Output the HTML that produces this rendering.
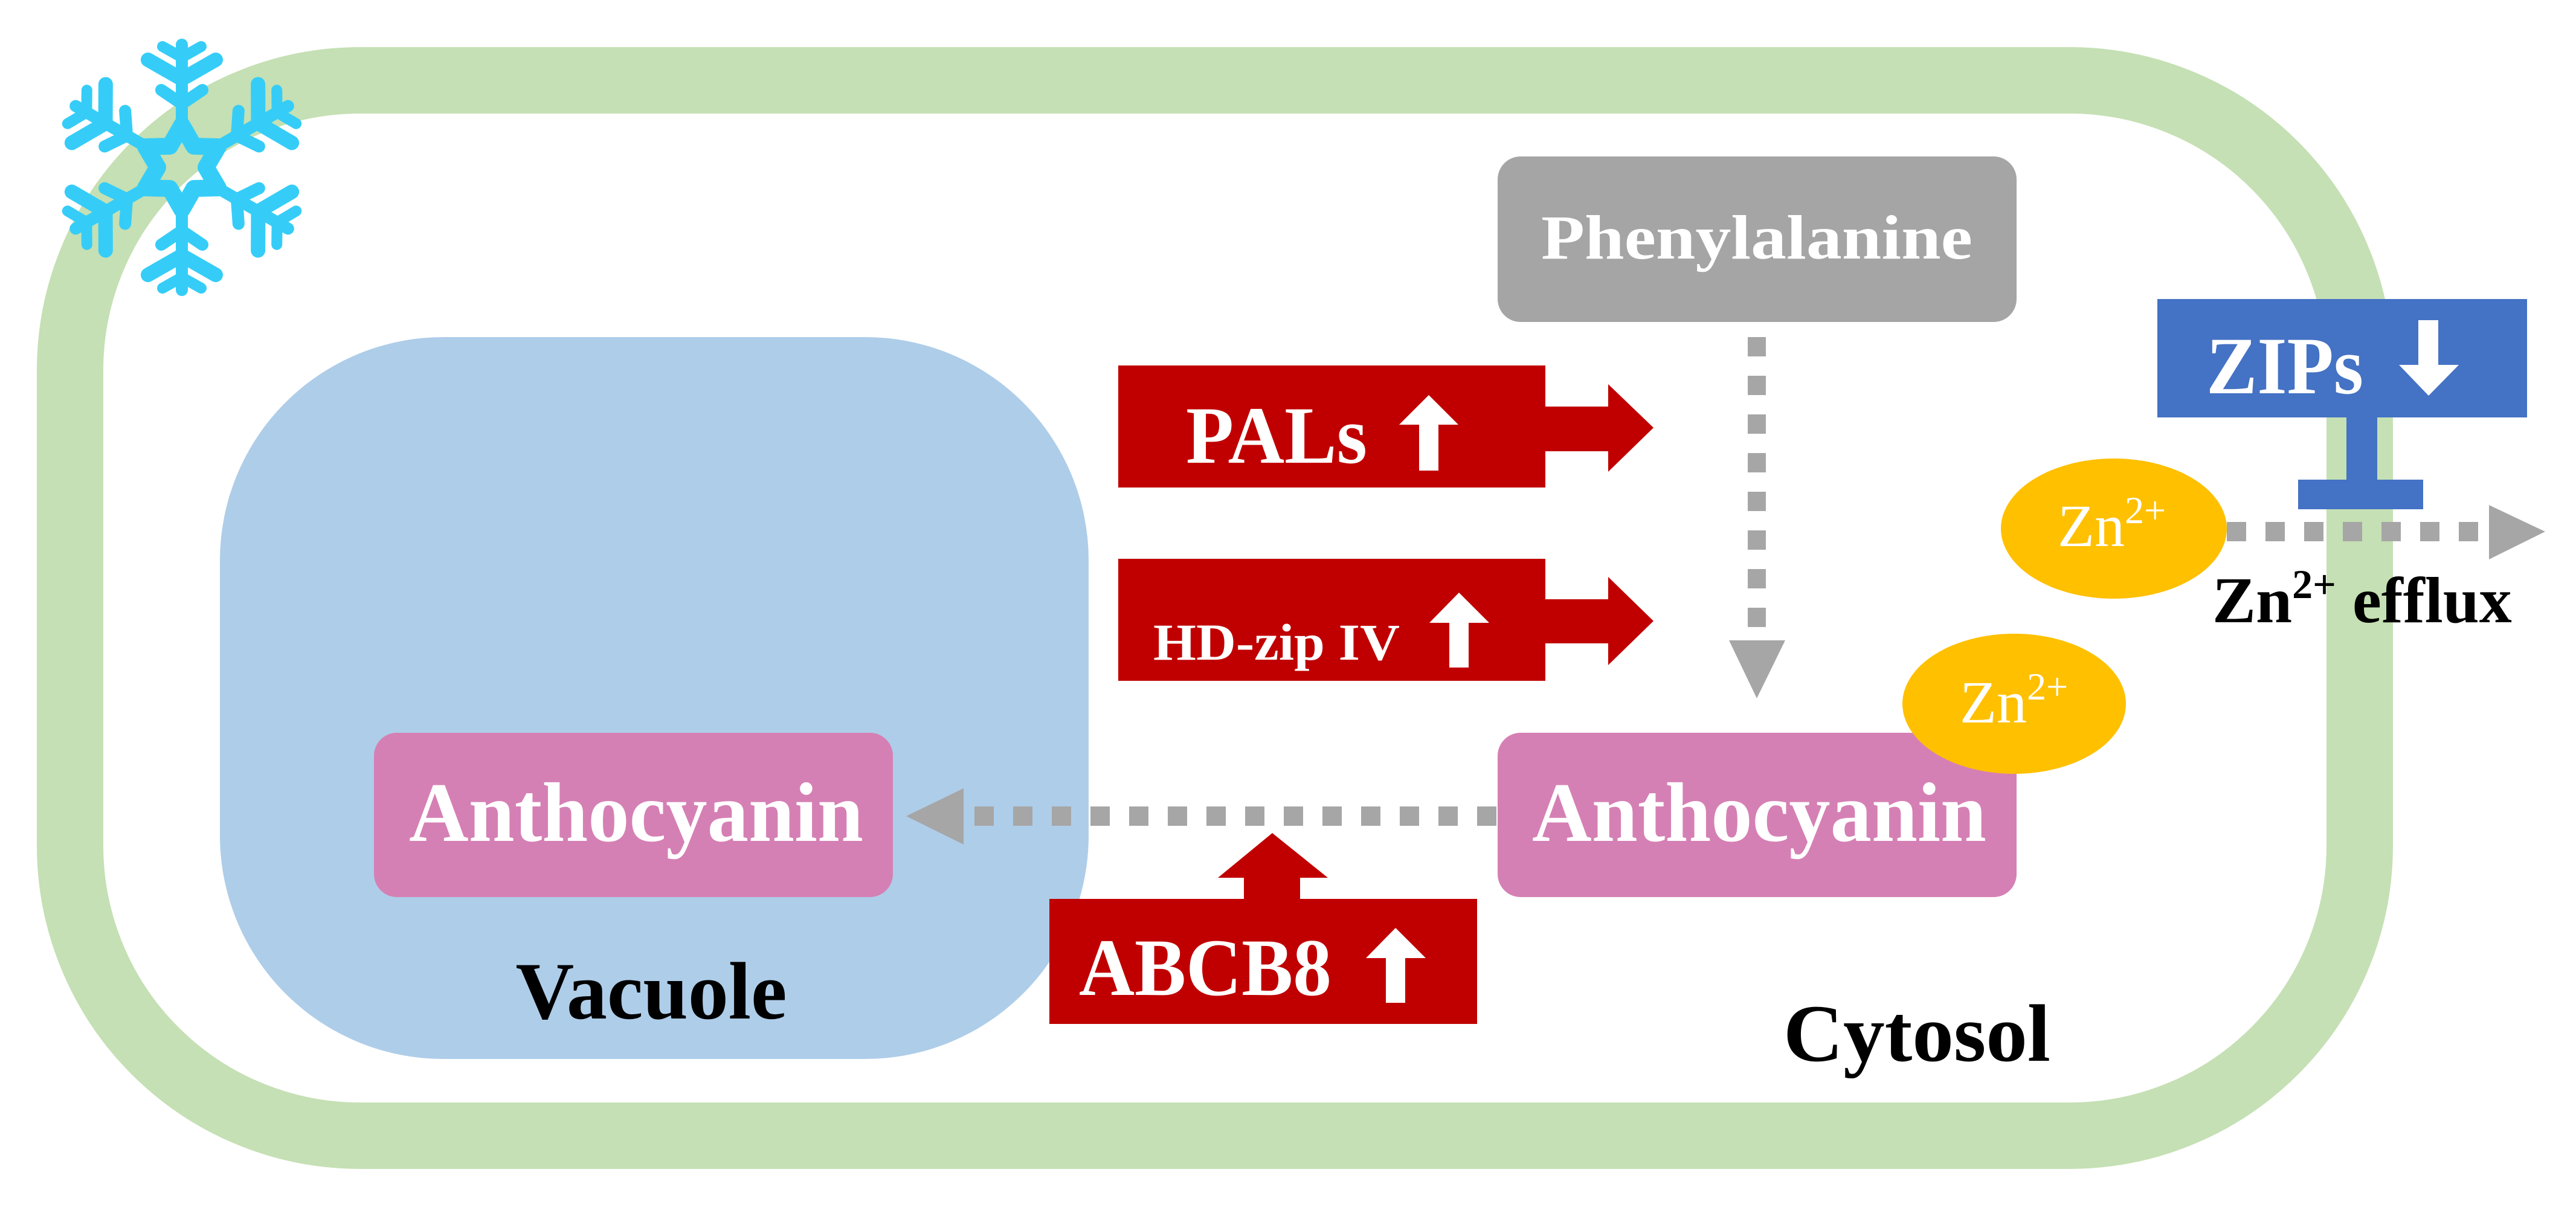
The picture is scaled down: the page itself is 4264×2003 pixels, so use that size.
<!DOCTYPE html>
<html><head><meta charset="utf-8"><style>
html,body{margin:0;padding:0;background:#fff;}
svg{display:block;}
text{font-family:"Liberation Serif",serif;font-weight:bold;}
</style></head><body>
<svg width="4264" height="2003" viewBox="0 0 4264 2003" xmlns="http://www.w3.org/2000/svg">
<rect x="116" y="133" width="3790" height="1747" rx="480" ry="480" fill="none" stroke="#c5e0b4" stroke-width="110"/>
<rect x="364" y="558" width="1438" height="1195" rx="370" ry="370" fill="#aecde9"/>
<g transform="translate(301,277)" stroke="#35cdf7" stroke-linecap="round" stroke-linejoin="round" fill="none">
  <g id="arm" stroke-width="20">
    <line x1="0" y1="-70" x2="0" y2="-203"/>
    <polyline points="-34,-128 0,-105 34,-128" stroke-width="20"/>
    <polyline points="-56,-178 0,-146 56,-178" stroke-width="24"/>
    <polyline points="-32,-200 0,-182 32,-200" stroke-width="18"/>
  </g>
  <use href="#arm" transform="rotate(60)"/>
  <use href="#arm" transform="rotate(120)"/>
  <use href="#arm" transform="rotate(180)"/>
  <use href="#arm" transform="rotate(240)"/>
  <use href="#arm" transform="rotate(300)"/>
  <polygon stroke-width="28" points="0,-70 20,-35 60,-34 40,0 60,34 20,35 0,70 -20,35 -60,34 -40,0 -60,-34 -20,-35"/>
</g>
<rect x="2479" y="259" width="859" height="274" rx="38" fill="#a5a5a5"/>
<text x="2908" y="428" font-size="104" fill="#fff" text-anchor="middle" textLength="714" lengthAdjust="spacingAndGlyphs">Phenylalanine</text>
<line x1="2908" y1="558" x2="2908" y2="1040" stroke="#a6a6a6" stroke-width="30" stroke-dasharray="32 32"/>
<polygon points="2862,1060 2955,1060 2908,1156" fill="#a6a6a6"/>
<rect x="2479" y="1213" width="859" height="272" rx="38" fill="#d580b4"/>
<text x="2912" y="1392" font-size="140" fill="#fff" text-anchor="middle" textLength="752" lengthAdjust="spacingAndGlyphs">Anthocyanin</text>
<rect x="619" y="1213" width="859" height="272" rx="38" fill="#d580b4"/>
<text x="1053" y="1392" font-size="140" fill="#fff" text-anchor="middle" textLength="752" lengthAdjust="spacingAndGlyphs">Anthocyanin</text>
<line x1="2477" y1="1351" x2="1600" y2="1351" stroke="#a6a6a6" stroke-width="32" stroke-dasharray="32 32"/>
<polygon points="1500,1351 1595,1305 1595,1398" fill="#a6a6a6"/>
<text x="1078" y="1686" font-size="135" fill="#000" text-anchor="middle" textLength="449" lengthAdjust="spacingAndGlyphs">Vacuole</text>
<text x="3173" y="1756" font-size="135" fill="#000" text-anchor="middle" textLength="442" lengthAdjust="spacingAndGlyphs">Cytosol</text>
<rect x="1851" y="605" width="707" height="202" fill="#c00000"/>
<polygon points="2556,673 2662,673 2662,636 2737,708 2662,781 2662,747 2556,747" fill="#c00000"/>
<text x="1963" y="766" font-size="135" fill="#fff" textLength="300" lengthAdjust="spacingAndGlyphs">PALs</text>
<polygon points="2365,654 2414,703 2381,703 2381,779 2349,779 2349,703 2316,703" fill="#fff"/>
<rect x="1851" y="925" width="707" height="202" fill="#c00000"/>
<polygon points="2556,992 2662,992 2662,955 2737,1028 2662,1101 2662,1065 2556,1065" fill="#c00000"/>
<text x="1909" y="1092" font-size="86" fill="#fff" textLength="408" lengthAdjust="spacingAndGlyphs">HD-zip IV</text>
<polygon points="2415,981 2465,1031 2431,1031 2431,1105 2399,1105 2399,1031 2366,1031" fill="#fff"/>
<rect x="1737" y="1488" width="708" height="207" fill="#c00000"/>
<polygon points="2059,1490 2059,1453 2016,1453 2106,1379 2198,1453 2152,1453 2152,1490" fill="#c00000"/>
<text x="1786" y="1647" font-size="135" fill="#fff" textLength="418" lengthAdjust="spacingAndGlyphs">ABCB8</text>
<polygon points="2310,1536 2360,1586 2326,1586 2326,1660 2294,1660 2294,1586 2261,1586" fill="#fff"/>
<ellipse cx="3334" cy="1165" rx="185" ry="116" fill="#ffc000"/>
<text x="3244" y="1196" font-size="100" fill="#fff" style="font-weight:normal">Zn<tspan font-size="64" dy="-38">2+</tspan></text>
<ellipse cx="3499" cy="875" rx="187" ry="116" fill="#ffc000"/>
<text x="3406" y="904" font-size="100" fill="#fff" style="font-weight:normal">Zn<tspan font-size="64" dy="-38">2+</tspan></text>
<line x1="3686" y1="880" x2="4108" y2="880" stroke="#a6a6a6" stroke-width="32" stroke-dasharray="32 32"/>
<polygon points="4120,836 4213,880 4120,926" fill="#a6a6a6"/>
<rect x="3571" y="495" width="612" height="196" fill="#4472c4"/>
<text x="3652" y="651" font-size="135" fill="#fff" textLength="260" lengthAdjust="spacingAndGlyphs">ZIPs</text>
<polygon points="4003,530 4036,530 4036,604 4070,604 4020,655 3971,604 4003,604" fill="#fff"/>
<rect x="3884" y="690" width="51" height="106" fill="#4472c4"/>
<rect x="3804" y="794" width="207" height="49" fill="#4472c4"/>
<text x="3662" y="1030" font-size="108" fill="#000">Zn<tspan font-size="68" dy="-40">2+</tspan><tspan dy="40"> efflux</tspan></text>
</svg>
</body></html>
